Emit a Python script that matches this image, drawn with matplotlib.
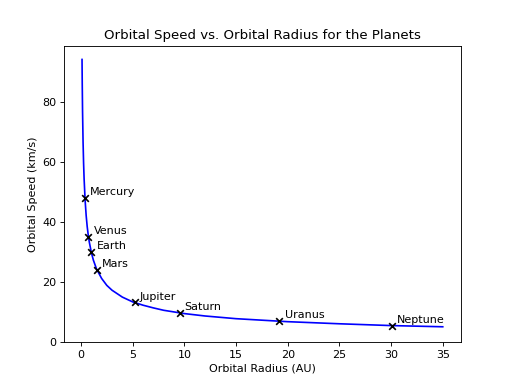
import numpy as np
from matplotlib import pyplot as plt

# points (radius in AU, speed in km/s)
curve_r = [0.1, 0.12, 0.15, 0.2, 0.25, 0.3, 0.4, 0.5, 0.6, 0.7, 0.8, 1.0, 1.2, 1.5,
           2.0, 2.5, 3.0, 4.0, 5.0, 6.0, 7.0, 8.0, 10.0, 12.0, 15.0, 20.0, 25.0, 30.0, 35.0]
curve_v = [94.2, 86.0, 76.9, 66.6, 59.6, 54.4, 47.1, 42.1, 38.4, 35.6, 33.3, 29.8, 27.2, 24.3,
           21.1, 18.8, 17.2, 14.9, 13.3, 12.2, 11.3, 10.5, 9.4, 8.6, 7.7, 6.7, 6.0, 5.4, 5.0]

# planets
planets = ['Mercury', 'Venus', 'Earth', 'Mars', 'Jupiter', 'Saturn', 'Uranus', 'Neptune']
radius = [0.387, 0.723, 1.0, 1.524, 5.203, 9.537, 19.19, 30.07]
speed = [47.9, 35.0, 29.8, 24.1, 13.1, 9.7, 6.8, 5.4]

fig, ax = plt.subplots(figsize=(6.4, 4.8), dpi=80)

#The model curve
ax.plot(curve_r, curve_v, 'b')
#The planets themselves
ax.scatter(radius, speed, marker='x', color='k', zorder=3)
for name, r, v in zip(planets, radius, speed):
    ax.text(r + 0.5, v + 1, name)

ax.set_ylim(bottom=0)
ax.set_xlabel('Orbital Radius (AU)')
ax.set_ylabel('Orbital Speed (km/s)')
ax.set_title('Orbital Speed vs. Orbital Radius for the Planets')

fig.savefig('out.png')
